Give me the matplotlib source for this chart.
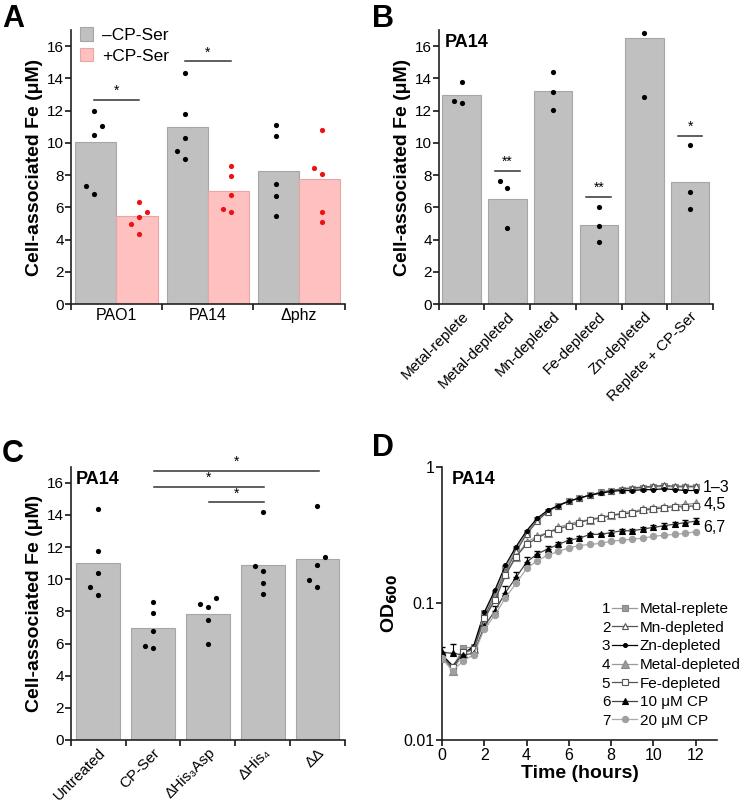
import matplotlib
matplotlib.use("Agg")
import matplotlib.pyplot as plt
import numpy as np
from matplotlib.lines import Line2D

plt.rcParams['font.family'] = ['Liberation Sans', 'DejaVu Sans']
plt.rcParams['axes.linewidth'] = 1.2
plt.rcParams['axes.edgecolor'] = '#222222'

# ---------------- Panel A data ----------------
a_groups = ['PAO1', 'PA14', 'Δphz']
a_minus_bar = [10.08, 11.01, 8.26]
a_plus_bar = [5.47, 7.00, 7.78]
a_minus_pts = [[11.98, 11.03, 10.47, 7.33, 6.84],
               [14.32, 11.76, 10.33, 9.48, 8.99],
               [11.12, 10.43, 7.46, 6.71, 5.48]]
a_plus_pts = [[6.30, 5.68, 5.41, 4.98, 4.36],
              [8.55, 7.93, 6.78, 5.87, 5.70],
              [10.81, 8.41, 8.08, 5.70, 5.06]]
a_minus_jit = [[0, 1, 0, -1, 0], [0, 0, 0, -1, 0], [0, 0, 0, 0, 0]]
a_plus_jit = [[0, 1, 0, -1, 0], [0, 0, 0, -1, 0], [0, -1, 0, 0, 0]]
a_sig = [(0, 12.67, '*'), (1, 15.05, '*')]

# ---------------- Panel B data ----------------
b_cats = ['Metal-replete', 'Metal-depleted', 'Mn-depleted', 'Fe-depleted',
          'Zn-depleted', 'Replete + CP-Ser']
b_bar = [12.95, 6.53, 13.22, 4.90, 16.53, 7.58]
b_pts = [[13.76, 12.60, 12.44], [7.64, 7.17, 4.73], [14.42, 13.18, 12.02],
         [6.01, 4.81, 3.86], [16.84, 12.83], [9.86, 6.96, 5.91]]
b_jit = [[0, -1, 0], [-1, 0, 0], [0, 0, 0], [0, 0, 0], [0, 0], [0, 0, 0]]
b_sig = [(1, 8.26, '**'), (3, 6.65, '**'), (5, 10.45, '*')]

# ---------------- Panel C data ----------------
c_cats = ['Untreated', 'CP-Ser', 'ΔHis₃Asp', 'ΔHis₄', 'ΔΔ']
c_bar = [11.00, 6.97, 7.81, 10.89, 11.27]
c_pts = [[14.35, 11.78, 10.36, 9.49, 9.01],
         [8.56, 7.92, 6.80, 5.85, 5.71],
         [8.45, 8.25, 8.81, 7.48, 5.97],
         [14.18, 10.81, 10.52, 9.78, 9.10],
         [14.55, 11.39, 10.91, 9.98, 9.51]]
c_jit = [[0, 0, 0, -1, 0], [0, 0, 0, -1, 0], [-1, 0, 1, 0, 0],
         [0, -1, 0, 0, 0], [0, 1, 0, -1, 0]]
c_sig = [(1, 4, 16.74, '*'), (1, 3, 15.73, '*'), (2, 3, 14.78, '*')]

# ---------------- Panel D data ----------------
d_time = [0, 0.5, 1, 1.5, 2, 2.5, 3, 3.5, 4, 4.5, 5, 5.5, 6, 6.5, 7, 7.5,
          8, 8.5, 9, 9.5, 10, 10.5, 11, 11.5, 12]
d_labels = ['Metal-replete', 'Mn-depleted', 'Zn-depleted', 'Metal-depleted',
            'Fe-depleted', '10 μM CP', '20 μM CP']
d_metal_replete = [0.042, 0.034, 0.047, 0.048, 0.085, 0.12, 0.18, 0.25, 0.33, 0.41, 0.47, 0.52, 0.56,
                   0.59, 0.62, 0.65, 0.67, 0.68, 0.69, 0.70, 0.71, 0.72, 0.71, 0.71, 0.71]
d_mn_depleted = [0.040, 0.033, 0.044, 0.047, 0.080, 0.115, 0.17, 0.24, 0.32, 0.40, 0.47, 0.52, 0.56,
                 0.59, 0.62, 0.65, 0.67, 0.69, 0.70, 0.71, 0.72, 0.73, 0.72, 0.72, 0.72]
d_zn_depleted = [0.042, 0.035, 0.042, 0.049, 0.086, 0.125, 0.19, 0.26, 0.34, 0.42, 0.48, 0.52, 0.56,
                 0.59, 0.62, 0.64, 0.66, 0.67, 0.67, 0.68, 0.68, 0.69, 0.68, 0.67, 0.67]
d_metal_depleted = [0.040, 0.032, 0.043, 0.046, 0.075, 0.11, 0.165, 0.22, 0.28, 0.31, 0.33, 0.36, 0.38,
                    0.40, 0.41, 0.43, 0.44, 0.46, 0.47, 0.49, 0.50, 0.51, 0.52, 0.53, 0.54]
d_fe_depleted = [0.041, 0.034, 0.044, 0.046, 0.078, 0.105, 0.16, 0.22, 0.27, 0.30, 0.33, 0.35, 0.37,
                 0.39, 0.41, 0.42, 0.44, 0.45, 0.46, 0.48, 0.49, 0.50, 0.51, 0.51, 0.52]
d_cp10 = [0.044, 0.043, 0.042, 0.043, 0.068, 0.088, 0.12, 0.155, 0.20, 0.23, 0.25, 0.27, 0.29,
          0.30, 0.32, 0.32, 0.33, 0.34, 0.34, 0.35, 0.36, 0.37, 0.38, 0.39, 0.40]
d_cp10_err = [0.004, 0.007, 0.004, 0.003, 0.004, 0.008, 0.015, 0.015, 0.02, 0.01, 0.012, 0.012, 0.01,
              0.01, 0.01, 0.01, 0.012, 0.012, 0.012, 0.012, 0.015, 0.015, 0.015, 0.02, 0.025]
d_cp20 = [0.040, 0.032, 0.038, 0.042, 0.065, 0.082, 0.11, 0.14, 0.18, 0.205, 0.225, 0.24, 0.255,
          0.265, 0.27, 0.275, 0.285, 0.29, 0.295, 0.30, 0.31, 0.315, 0.32, 0.325, 0.335]
d_groups_text = ['1–3', '4,5', '6,7']
d_groups_y = [0.71, 0.53, 0.36]

GRAY = '#c0c0c0'
GRAY_E = '#a6a6a6'
PINK = '#ffc0c0'
PINK_E = '#e8a5a5'
RED = '#ee1111'

fig = plt.figure(figsize=(7.45, 8.06), dpi=100)

TICK_FS = 11
YLAB_FS = 14
DOT_S = 14


def style_bar_axes(ax):
    ax.spines['top'].set_visible(False)
    ax.spines['right'].set_visible(False)
    ax.set_ylim(0, 17)
    ax.set_yticks(range(0, 17, 2))
    ax.tick_params(axis='y', direction='out', length=4, width=1.1, labelsize=TICK_FS, pad=1)
    ax.set_ylabel('Cell-associated Fe (μM)', fontsize=YLAB_FS, fontweight='bold', labelpad=3)


def cat_ticks(ax, n, labels, rotation=0):
    ax.set_xlim(-0.5, n - 0.5)
    ax.set_xticks(np.arange(-0.5, n, 1.0))
    ax.set_xticklabels([''] * (n + 1))
    ax.tick_params(axis='x', which='major', direction='out', length=4, width=1.1)
    ax.set_xticks(np.arange(n), minor=True)
    if rotation:
        ax.set_xticklabels(labels, minor=True, rotation=rotation, ha='right',
                           rotation_mode='anchor', fontsize=TICK_FS)
        ax.tick_params(axis='x', which='minor', length=0, pad=4)
    else:
        ax.set_xticklabels(labels, minor=True, fontsize=TICK_FS + 0.5)
        ax.tick_params(axis='x', which='minor', length=0, pad=3)


def sig(ax, x0, x1, y, txt):
    ax.plot([x0, x1], [y, y], color='#333333', lw=1.1, clip_on=False)
    ax.text((x0 + x1) / 2, y + 0.12, txt, ha='center', va='bottom', fontsize=10, clip_on=False)


# ---------------- Panel A ----------------
axA = fig.add_axes([0.0949, 0.6228, 0.368, 0.340])
xa = np.arange(len(a_groups))
axA.bar(xa - 0.225, a_minus_bar, width=0.45, color=GRAY, edgecolor=GRAY_E, lw=0.8,
        label='–CP-Ser', zorder=1)
axA.bar(xa + 0.225, a_plus_bar, width=0.45, color=PINK, edgecolor=PINK_E, lw=0.8,
        label='+CP-Ser', zorder=1)
for i in range(len(a_groups)):
    axA.scatter(xa[i] - 0.25 + 0.088 * np.array(a_minus_jit[i]), a_minus_pts[i], s=DOT_S,
                color='black', zorder=3, lw=0)
    axA.scatter(xa[i] + 0.25 + 0.088 * np.array(a_plus_jit[i]), a_plus_pts[i], s=DOT_S,
                color=RED, zorder=3, lw=0)
for g, y, t in a_sig:
    sig(axA, g - 0.25, g + 0.25, y, t)
style_bar_axes(axA)
cat_ticks(axA, 3, a_groups)
axA.legend(loc='upper left', bbox_to_anchor=(0.035, 1.01), frameon=False, fontsize=12.5,
           handlelength=0.75, handleheight=0.8, handletextpad=0.5, labelspacing=0.3,
           borderaxespad=0, borderpad=0)

# ---------------- Panel B ----------------
axB = fig.add_axes([0.589, 0.6228, 0.368, 0.340])
xb = np.arange(len(b_cats))
axB.bar(xb, b_bar, width=0.84, color=GRAY, edgecolor=GRAY_E, lw=0.8, zorder=1)
for i in range(len(b_cats)):
    axB.scatter(xb[i] + 0.168 * np.array(b_jit[i]), b_pts[i], s=DOT_S, color='black', zorder=3, lw=0)
for g, y, t in b_sig:
    sig(axB, g - 0.27, g + 0.27, y, t)
style_bar_axes(axB)
cat_ticks(axB, len(b_cats), b_cats, rotation=45)
axB.text(0.02, 0.985, 'PA14', transform=axB.transAxes, fontsize=13, fontweight='bold',
         va='top', ha='left')

# ---------------- Panel C ----------------
axC = fig.add_axes([0.0949, 0.0819, 0.368, 0.339])
xc = np.arange(len(c_cats))
axC.bar(xc, c_bar, width=0.8, color=GRAY, edgecolor=GRAY_E, lw=0.8, zorder=1)
for i in range(len(c_cats)):
    axC.scatter(xc[i] + 0.146 * np.array(c_jit[i]), c_pts[i], s=DOT_S, color='black', zorder=3, lw=0)
for g0, g1, y, t in c_sig:
    sig(axC, g0 + 0.02, g1 + 0.02, y, t)
style_bar_axes(axC)
cat_ticks(axC, len(c_cats), c_cats, rotation=45)
axC.text(0.02, 0.985, 'PA14', transform=axC.transAxes, fontsize=13, fontweight='bold',
         va='top', ha='left')

# ---------------- Panel D ----------------
axD = fig.add_axes([0.5933, 0.0819, 0.369, 0.339])
t = np.array(d_time)
specs = [
    (d_metal_replete, dict(marker='s', color='#9a9a9a', mfc='#9a9a9a', mec='#8a8a8a', ms=4.5)),
    (d_mn_depleted, dict(marker='^', color='#555555', mfc='white', mec='#555555', ms=5)),
    (d_zn_depleted, dict(marker='o', color='black', mfc='black', mec='black', ms=2.8)),
    (d_metal_depleted, dict(marker='^', color='#9a9a9a', mfc='#9a9a9a', mec='#8a8a8a', ms=5.5)),
    (d_fe_depleted, dict(marker='s', color='#555555', mfc='white', mec='#555555', ms=4.5)),
    (d_cp10, dict(marker='^', color='#444444', mfc='black', mec='black', ms=5)),
    (d_cp20, dict(marker='o', color='#aaaaaa', mfc='#a0a0a0', mec='#a0a0a0', ms=4.5)),
]
handles = []
for (vals, kw), lab in zip(specs, d_labels):
    ln, = axD.plot(t, vals, lw=0.9, label=lab, mew=0.8, zorder=3, **kw)
    handles.append(ln)
axD.errorbar(t, d_cp10, yerr=[np.zeros(len(d_cp10)), d_cp10_err], fmt='none', ecolor='black',
             elinewidth=0.8, capsize=2, zorder=2)
axD.set_yscale('log')
axD.set_ylim(0.01, 1)
axD.set_xlim(0, 13)
axD.set_xticks(range(0, 13, 2))
axD.set_yticks([0.01, 0.1, 1])
axD.set_yticklabels(['0.01', '0.1', '1'])
axD.minorticks_off()
axD.spines['top'].set_visible(False)
axD.spines['right'].set_visible(False)
axD.tick_params(axis='both', direction='out', length=4, width=1.1, labelsize=TICK_FS + 0.5, pad=1.5)
axD.set_xlabel('Time (hours)', fontsize=YLAB_FS, fontweight='bold', labelpad=2)
axD.set_ylabel('OD$_{\\mathbf{600}}$', fontsize=YLAB_FS, fontweight='bold', labelpad=2)
for txt, y in zip(d_groups_text, d_groups_y):
    axD.text(12.35, y, txt, fontsize=11.5, va='center', ha='left', clip_on=False)
axD.text(0.035, 0.985, 'PA14', transform=axD.transAxes, fontsize=13, fontweight='bold',
         va='top', ha='left')
leg1 = axD.legend(handles=handles, loc='lower left', bbox_to_anchor=(0.62, 0.045), frameon=False,
                  fontsize=11, handlelength=1.6, handletextpad=0.2, labelspacing=0.3,
                  borderaxespad=0, borderpad=0)
axD.add_artist(leg1)
num_handles = [Line2D([], [], lw=0) for _ in d_labels]
leg2 = axD.legend(num_handles, [str(i + 1) for i in range(len(d_labels))], loc='lower right',
                  bbox_to_anchor=(0.612, 0.045), frameon=False, fontsize=11, handlelength=0,
                  handletextpad=0, labelspacing=0.3, borderaxespad=0, borderpad=0)

# Panel letters
for lab, x, y in [('A', 0.003, 0.995), ('B', 0.499, 0.995), ('C', 0.002, 0.455), ('D', 0.499, 0.463)]:
    fig.text(x, y, lab, fontsize=22, fontweight='bold', va='top', ha='left')

fig.savefig('out.png', dpi=100)
